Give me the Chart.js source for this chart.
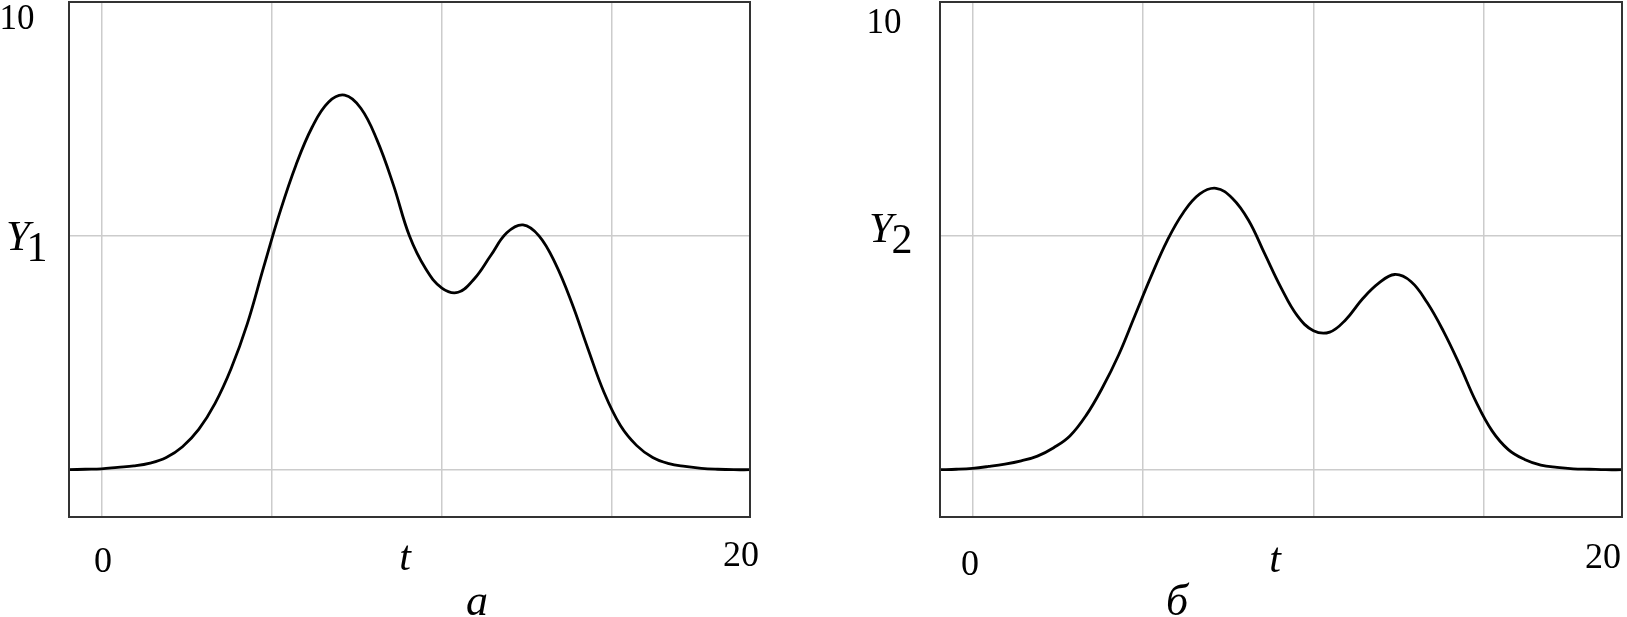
<!DOCTYPE html>
<html>
<head>
<meta charset="utf-8">
<script src="https://cdn.jsdelivr.net/npm/chart.js@4"></script>
<style>
  html, body { margin: 0; padding: 0; background: #fff; }
  #wrap { position: relative; width: 1627px; height: 617px; }
  #wrap canvas { position: absolute; left: 0; top: 0; }
</style>
</head>
<body>
<div id="wrap">
  <canvas id="chartA" width="1627" height="617"></canvas>
  <canvas id="chartB" width="1627" height="617"></canvas>
</div>
<script>
// Data (t step 0.5)
const tValues = [-1, -0.5, 0, 0.5, 1, 1.5, 2, 2.5, 3, 3.5, 4, 4.5, 5, 5.5, 6, 6.5, 7, 7.5, 8, 8.5, 9, 9.5,
  10, 10.5, 11, 11.5, 12, 12.5, 13, 13.5, 14, 14.5, 15, 15.5, 16, 16.5, 17, 17.5, 18, 18.5, 19, 19.5, 20];

const y1Values = [0.01, 0.02, 0.03, 0.06, 0.09, 0.15, 0.27, 0.50, 0.87, 1.42, 2.17, 3.13, 4.33, 5.50, 6.52, 7.33,
  7.86, 8.01, 7.73, 7.05, 6.10, 5.00, 4.30, 3.89, 3.80, 4.09, 4.58, 5.07, 5.24, 5.00, 4.41, 3.58, 2.60, 1.66,
  0.96, 0.53, 0.27, 0.14, 0.08, 0.04, 0.02, 0.01, 0.01];

const y2Values = [0.01, 0.02, 0.04, 0.08, 0.13, 0.20, 0.30, 0.48, 0.73, 1.17, 1.76, 2.46, 3.30, 4.14, 4.91, 5.51,
  5.90, 6.02, 5.81, 5.34, 4.62, 3.90, 3.30, 2.98, 2.95, 3.22, 3.65, 3.99, 4.18, 4.03, 3.58, 2.97, 2.25, 1.47,
  0.84, 0.44, 0.23, 0.11, 0.06, 0.03, 0.02, 0.01, 0.01];

// Axis limits and grid positions
const xLimits = [-1, 20];
const yLimits = [-1, 10];
const xGrid = [0, 5.25, 10.5, 15.75];
const yGrid = [0, 5];

const SERIF = '"Liberation Serif", "Times New Roman", serif';

// Frame round the plot area
const framePlugin = {
  id: "frame",
  afterDraw(chart) {
    const { ctx, chartArea: a } = chart;
    ctx.save();
    ctx.strokeStyle = "#333";
    ctx.lineWidth = 2;
    ctx.strokeRect(a.left, a.top, a.right - a.left, a.bottom - a.top);
    ctx.restore();
  }
};

// Labels drawn as text on the canvas
const textPlugin = {
  id: "plotText",
  afterDraw(chart, args, opts) {
    const ctx = chart.ctx;
    ctx.save();
    ctx.fillStyle = "#000";
    ctx.textBaseline = "alphabetic";
    (opts.items || []).forEach(item => {
      ctx.font = `${item.italic ? "italic " : ""}${item.size}px ${SERIF}`;
      ctx.textAlign = item.align || "center";
      ctx.fillText(item.text, item.x, item.y);
    });
    ctx.restore();
  }
};

function makeConfig(values, padding, items) {
  return {
    type: "line",
    data: {
      datasets: [{
        data: tValues.map((t, i) => ({ x: t, y: values[i] })),
        borderColor: "#000",
        borderWidth: 2.8,
        pointRadius: 0,
        tension: 0.4,
        fill: false
      }]
    },
    options: {
      responsive: false,
      animation: false,
      layout: { padding },
      plugins: { legend: { display: false }, tooltip: { enabled: false }, plotText: { items } },
      scales: {
        x: {
          type: "linear", min: xLimits[0], max: xLimits[1],
          afterBuildTicks: s => { s.ticks = xGrid.map(v => ({ value: v })); },
          ticks: { display: false },
          grid: { color: "#cccccc", lineWidth: 1.5, drawTicks: false },
          border: { display: false }
        },
        y: {
          type: "linear", min: yLimits[0], max: yLimits[1],
          afterBuildTicks: s => { s.ticks = yGrid.map(v => ({ value: v })); },
          ticks: { display: false },
          grid: { color: "#cccccc", lineWidth: 1.5, drawTicks: false },
          border: { display: false }
        }
      }
    },
    plugins: [framePlugin, textPlugin]
  };
}

// Initialize Charts
const chartA = new Chart(document.getElementById("chartA"), makeConfig(
  y1Values,
  { left: 69, top: 2, right: 877, bottom: 100 },
  [
    { text: "10", x: 17, y: 29, size: 35 },
    { text: "Y", x: 6, y: 250, size: 43, italic: true, align: "left" },
    { text: "1", x: 37, y: 261, size: 42 },
    { text: "0", x: 103, y: 572, size: 36 },
    { text: "t", x: 405, y: 570, size: 42, italic: true },
    { text: "20", x: 741, y: 566, size: 36 },
    { text: "а", x: 477, y: 615, size: 44, italic: true }
  ]
));

const chartB = new Chart(document.getElementById("chartB"), makeConfig(
  y2Values,
  { left: 940, top: 2, right: 5, bottom: 100 },
  [
    { text: "10", x: 884, y: 33, size: 35 },
    { text: "Y", x: 869, y: 242, size: 43, italic: true, align: "left" },
    { text: "2", x: 902, y: 253, size: 42 },
    { text: "0", x: 970, y: 575, size: 36 },
    { text: "t", x: 1275, y: 572, size: 42, italic: true },
    { text: "20", x: 1603, y: 568, size: 36 },
    { text: "б", x: 1177, y: 615, size: 44, italic: true }
  ]
));
</script>
</body>
</html>
